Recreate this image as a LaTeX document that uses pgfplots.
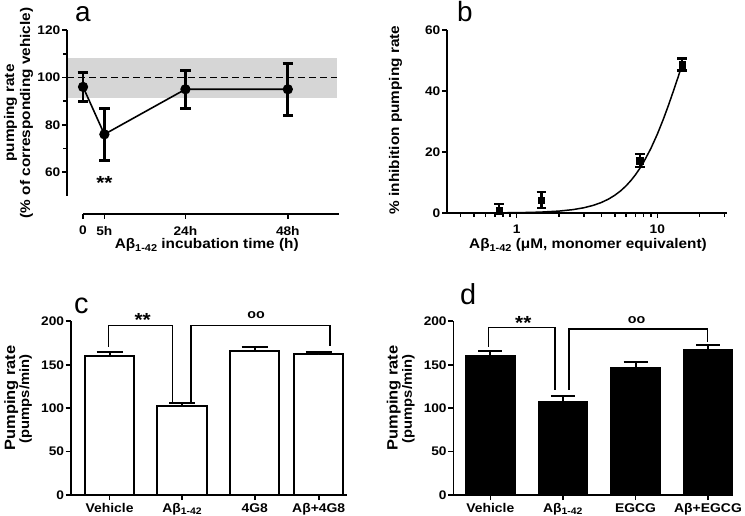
\documentclass[border=0pt]{standalone}
\usepackage{fontspec}
\setmainfont{Liberation Sans}[FakeStretch=1.1]
\newfontfamily\letterfont{Liberation Sans}
\usepackage{pgfplots}
\pgfplotsset{compat=1.18}
\newcommand\subs[2][10]{\raisebox{-0.3ex}{\fontsize{#1}{#1}\selectfont #2}}
\newcommand\tickfont{\fontsize{12.5}{13}\selectfont\bfseries}
\newcommand\labfont{\fontsize{14}{16}\selectfont\bfseries}
\newcommand\catfont{\fontsize{12.7}{14}\selectfont\bfseries}
\newcommand\starfont{\fontsize{19}{19}\selectfont\bfseries}
\newcommand\oofont{\fontsize{13}{13}\selectfont\bfseries}
\pgfplotsset{
  myax/.style={
    scale only axis, clip=false, anchor=south west,
    axis x line*=bottom, axis y line*=left,
    axis line style={line width=1.6bp, black},
    tick style={line width=1.6bp, black},
    tick align=outside,
    major tick length=5bp, minor tick length=4bp,
    tick label style={font=\tickfont},
    y tick label style={inner sep=1.5bp},
    /pgf/number format/assume math mode=true,
  }
}
\begin{document}
\begin{tikzpicture}
\path[use as bounding box] (0,0) rectangle (745bp,516bp);
% ---------------- panel a
\begin{axis}[myax, at={(67bp,302bp)}, width=272bp, height=184bp,
  xmin=-3.76, xmax=60, ymin=42.4, ymax=120,
  x axis line style={draw=none}, y axis line style={draw=none},
  xtick={0,5,24,48}, xticklabels={0,5h,24h,48h},
  x tick label style={yshift=-3.5bp},
  ytick={60,80,100,120}, minor ytick={70,90,110}]
\addplot[draw=none, fill=black!16] coordinates {(-3.76,91.4) (59.6,91.4) (59.6,108.2) (-3.76,108.2)} -- cycle;
\addplot[black, line width=1.6bp, dash pattern=on 7bp off 4bp] coordinates {(-3.76,100) (59.6,100)};
\draw[line width=1.6bp] (axis cs:-3.76,50) -- (axis cs:-3.76,120);
\draw[line width=1.6bp] (axis cs:0,42.4) -- (axis cs:60,42.4);
\addplot[black, line width=1.6bp, mark=*, mark size=4.3bp,
  error bars/.cd, y dir=both, y explicit,
  error bar style={line width=2.8bp},
  error mark options={rotate=90, line width=2.8bp, mark size=5.3bp}]
  coordinates {(0,96) +- (0,6) (5,76) +- (0,11) (24,95) +- (0,8) (48,95) +- (0,11)};
\node[font=\starfont, anchor=north, inner sep=0] at (axis cs:5,58.2) {**};
\end{axis}
% ---------------- panel b
\begin{axis}[myax, at={(447bp,303bp)}, width=280bp, height=183bp,
  xmode=log, xmin=0.32, xmax=31.3, ymin=0, ymax=60,
  xtick={1,10}, xticklabels={1,10},
  x tick label style={yshift=-3.5bp},
  minor xtick={0.4,0.5,0.6,0.7,0.8,0.9,2,3,4,5,6,7,8,9,20,30},
  ytick={0,20,40,60}]
\addplot[black, line width=1.5bp] coordinates {
 (0.75,0.054) (1,0.111) (1.25,0.19) (1.5,0.306) (2,0.626) (2.5,1.09) (3,1.71)
 (3.5,2.49) (4,3.44) (4.5,4.56) (5,5.85) (5.5,7.30) (6,8.91) (6.5,10.67)
 (7,12.56) (7.5,14.57) (8,16.69) (9,21.15) (10,25.82) (11,30.56) (12,35.29)
 (13,39.93) (14,44.32) (15,48.5)};
\addplot[black, only marks, mark=square*, mark size=3.3bp,
  error bars/.cd, y dir=both, y explicit,
  error bar style={line width=2.4bp},
  error mark options={rotate=90, line width=2.4bp, mark size=4.8bp}]
  coordinates {(0.75,0.8) += (0,2.2) -= (0,0.8) (1.5,4.2) +- (0,2.6) (7.5,17.2) +- (0,2.2) (15,48.7) +- (0,2)};
\end{axis}
% ---------------- panel c
\begin{axis}[myax, at={(70.7bp,21bp)}, width=276bp, height=173.7bp,
  xmin=0, xmax=276, ymin=0, ymax=200, ytick={0,50,100,150,200},
  xtick={38.8,111.3,184,248},
  xticklabels={Vehicle,{Aβ\subs[9.5]{1-42}},4G8,Aβ+4G8},
  x tick label style={font=\catfont}]
\addplot[ybar, bar width=49.3, fill=white, draw=black, line width=2bp,
  error bars/.cd, y dir=plus, y explicit,
  error bar style={line width=2bp},
  error mark options={rotate=90, line width=2bp, mark size=13bp}]
  coordinates {(38.8,160) +- (0,5) (111.3,102) +- (0,4) (184,166) +- (0,4.5) (248,162) +- (0,3)};
\addplot[black, line width=1.3bp] coordinates {(37.6,170.7) (37.6,195.4) (102,195.4) (102,107.5)};
\addplot[black, line width=1.3bp] coordinates {(120.3,107.5) (120.3,195.4) (259.3,195.4) (259.3,172)};
\node[font=\starfont, anchor=north, inner sep=0] at (axis cs:72,209.2) {**};
\node[font=\oofont, anchor=north, inner sep=0] at (axis cs:185.3,211) {oo};
\end{axis}
% ---------------- panel d
\begin{axis}[myax, at={(453.3bp,21bp)}, width=280bp, height=173.7bp,
  xmin=0, xmax=280, ymin=0, ymax=200, ytick={0,50,100,150,200},
  xtick={37,109.5,182.2,254.7},
  xticklabels={Vehicle,{Aβ\subs[9.5]{1-42}},EGCG,Aβ+EGCG},
  x tick label style={font=\catfont}]
\addplot[ybar, bar width=48.5, fill=black, draw=black, line width=2bp,
  error bars/.cd, y dir=plus, y explicit,
  error bar style={line width=2bp},
  error mark options={rotate=90, line width=2bp, mark size=12bp}]
  coordinates {(37,160) +- (0,5.5) (109.5,107.5) +- (0,6.5) (182.2,146) +- (0,7.5) (254.7,167) +- (0,6)};
\addplot[black, line width=1.3bp] coordinates {(35,170.7) (35,193) (101.7,193) (101.7,121)};
\addplot[black, line width=1.3bp] coordinates {(115.7,121) (115.7,191) (254.3,191) (254.3,175.8)};
\node[font=\starfont, anchor=north, inner sep=0] at (axis cs:70,205.3) {**};
\node[font=\oofont, anchor=north, inner sep=0] at (axis cs:183.3,205.3) {oo};
\end{axis}
% ---------------- labels
\node[rotate=90, anchor=base, font=\labfont] at (14bp,403bp) {pumping rate};
\node[rotate=90, anchor=base, font=\labfont] at (30bp,403bp) {(\% of corresponding vehicle)};
\node[anchor=base, font=\labfont] at (206.7bp,267bp) {Aβ\subs{1-42} incubation time (h)};
\node[rotate=90, anchor=base, font=\labfont] at (399bp,396bp) {\% inhibition pumping rate};
\node[anchor=base, font=\labfont] at (588bp,267bp) {Aβ\subs{1-42} (μM, monomer equivalent)};
\node[rotate=90, anchor=base, font=\fontsize{15}{15}\selectfont\bfseries] at (15bp,118bp) {Pumping rate};
\node[rotate=90, anchor=base, font=\fontsize{13.5}{14}\selectfont\bfseries] at (29.2bp,117bp) {(pumps/min)};
\node[rotate=90, anchor=base, font=\fontsize{15}{15}\selectfont\bfseries] at (397.6bp,118bp) {Pumping rate};
\node[rotate=90, anchor=base, font=\fontsize{13.5}{14}\selectfont\bfseries] at (411.8bp,117bp) {(pumps/min)};
\node[anchor=base west, inner sep=0, font=\letterfont\fontsize{28}{28}\selectfont] at (75bp,494.5bp) {a};
\node[anchor=base west, inner sep=0, font=\letterfont\fontsize{28}{28}\selectfont] at (457bp,494.5bp) {b};
\node[anchor=base west, inner sep=0, font=\letterfont\fontsize{29}{29}\selectfont] at (74bp,202.7bp) {c};
\node[anchor=base west, inner sep=0, font=\letterfont\fontsize{29}{29}\selectfont] at (460bp,211bp) {d};
\end{tikzpicture}
\end{document}
